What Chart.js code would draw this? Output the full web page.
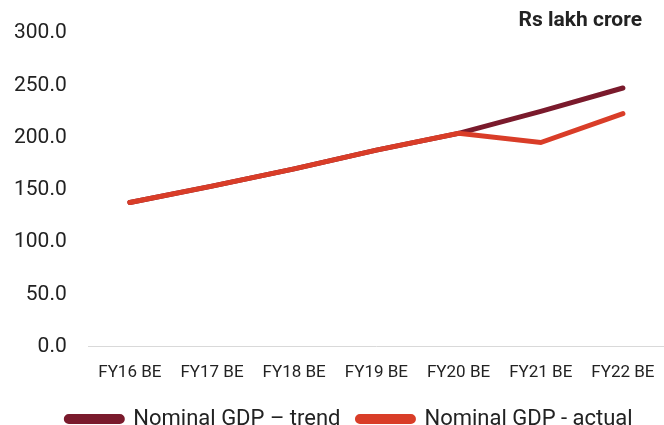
<!DOCTYPE html>
<html>
<head>
<meta charset="utf-8">
<script src="https://cdn.jsdelivr.net/npm/chart.js@4"></script>
<style>
  html, body { margin: 0; padding: 0; background: #fff; }
  #wrap { width: 664px; height: 425px; }
</style>
</head>
<body>
<div id="wrap"><canvas id="grafica-gdp"></canvas></div>
<script>
var categorias = ["FY16 BE","FY17 BE","FY18 BE","FY19 BE","FY20 BE","FY21 BE","FY22 BE"];
var tendencia = [137.9, 153.5, 170.0, 188.0, 204.0, 225.0, 247.4];
var real = [137.9, 153.5, 170.0, 188.0, 204.0, 195.2, 222.9];
var unidad = "Rs lakh crore";

var fuente = "Roboto, 'Liberation Sans', sans-serif";

// texto de unidad arriba a la derecha
var etiquetaUnidad = {
  id: "etiquetaUnidad",
  afterDraw: function(chart) {
    var ctx = chart.ctx;
    ctx.save();
    ctx.font = "bold 21px " + fuente;
    ctx.fillStyle = "#222";
    ctx.textAlign = "right";
    ctx.textBaseline = "middle";
    ctx.fillText(unidad, 642, 21);
    ctx.restore();
  }
};

var contexto = document.getElementById("grafica-gdp");
var grafica = new Chart(contexto, {
  type: "line",
  data: {
    labels: categorias,
    datasets: [{
      label: "Nominal GDP \u2013 trend",
      data: tendencia,
      borderColor: "#7a1a2c",
      backgroundColor: "#7a1a2c",
      borderWidth: 5,
      pointRadius: 0,
      borderCapStyle: "round",
      tension: 0,
      order: 1
    },
    {
      label: "Nominal GDP - actual",
      data: real,
      borderColor: "#d93d28",
      backgroundColor: "#d93d28",
      borderWidth: 5,
      pointRadius: 0,
      borderCapStyle: "round",
      tension: 0,
      order: 0
    }]
  },
  options: {
    responsive: true,
    maintainAspectRatio: false,
    animation: false,
    layout: { padding: { top: 33, right: -35, left: 0, bottom: -15 } },
    plugins: {
      tooltip: { enabled: false },
      legend: {
        position: "bottom",
        labels: {
          sort: function(a, b) { return a.datasetIndex - b.datasetIndex; },
          boxWidth: 56,
          boxHeight: 5,
          useBorderRadius: true,
          borderRadius: 2.5,
          padding: 17,
          color: "#222",
          font: { family: fuente, size: 22 }
        }
      }
    },
    scales: {
      x: {
        offset: true,
        grid: { display: false },
        border: { display: true, color: "#d9d9d9", width: 1 },
        ticks: { color: "#222", padding: 8, maxRotation: 0, font: { family: fuente, size: 17 } }
      },
      y: {
        min: 0,
        max: 300,
        grid: { display: false },
        border: { display: false },
        ticks: {
          stepSize: 50,
          color: "#222",
          padding: 14,
          font: { family: fuente, size: 21 },
          callback: function(v) { return Number(v).toFixed(1); }
        }
      },
      // eje vacio a la derecha, solo para que la leyenda quede centrada como en el original
      derecha: {
        type: "linear",
        position: "right",
        grid: { display: false },
        border: { display: false },
        ticks: { display: false },
        afterFit: function(scale) { scale.width = 30; }
      }
    }
  },
  plugins: [etiquetaUnidad]
});
</script>
</body>
</html>
